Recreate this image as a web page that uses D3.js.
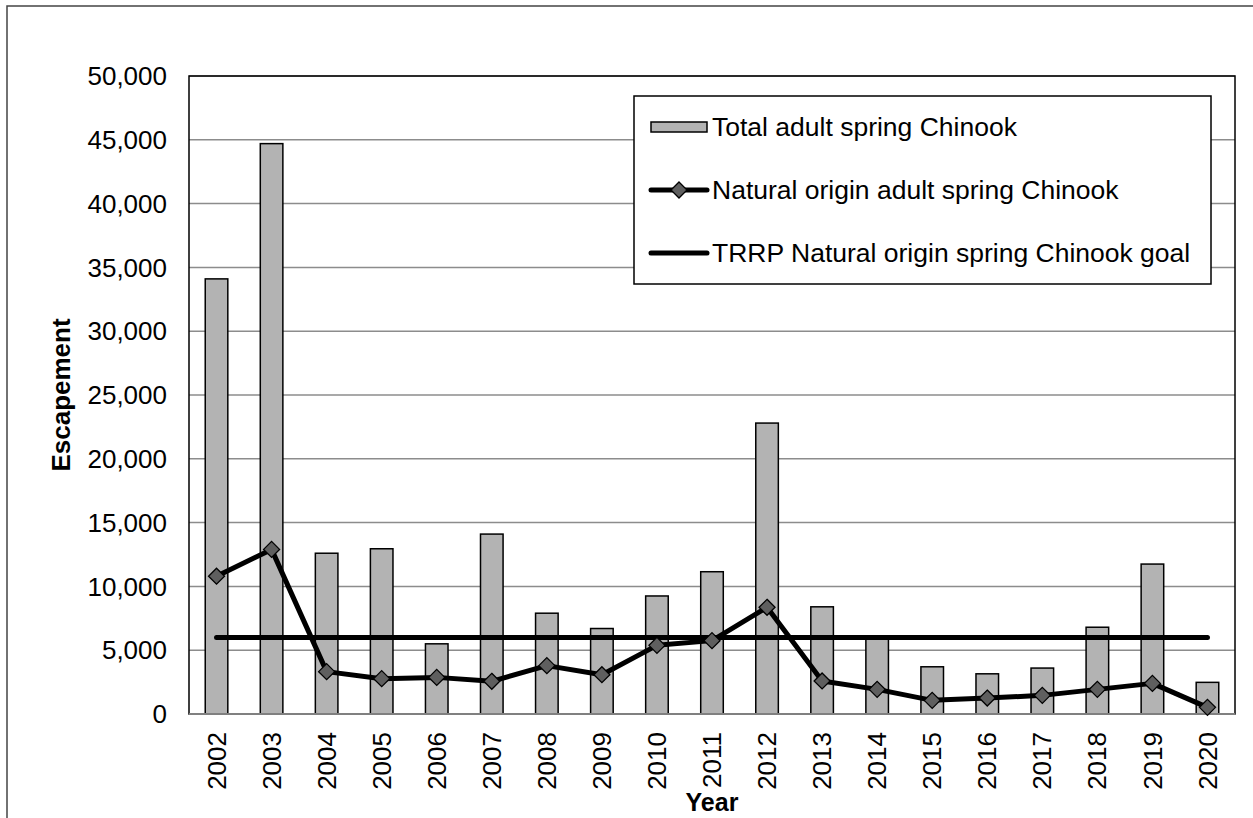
<!DOCTYPE html>
<html>
<head>
<meta charset="utf-8">
<script src="https://cdn.jsdelivr.net/npm/d3@7"></script>
<style>
  body { margin: 0; background: #fff; }
  text { font-family: "Liberation Sans", Arial, sans-serif; fill: #000; }
</style>
</head>
<body>
<div id="chart"></div>
<script>
// data
var years = ["2002","2003","2004","2005","2006","2007","2008","2009","2010","2011",
             "2012","2013","2014","2015","2016","2017","2018","2019","2020"];
var totalAdult = [34100, 44700, 12600, 12950, 5500, 14100, 7900, 6700, 9250, 11150,
                  22800, 8400, 6000, 3700, 3150, 3600, 6800, 11750, 2480];
var naturalAdult = [10800, 12900, 3320, 2770, 2870, 2560, 3790, 3080, 5380, 5750,
                    8360, 2590, 1930, 1070, 1250, 1460, 1930, 2400, 520];
var goalValue = 6000;
var yTicks = [0, 5000, 10000, 15000, 20000, 25000, 30000, 35000, 40000, 45000, 50000];
var legendLabels = ["Total adult spring Chinook",
                    "Natural origin adult spring Chinook",
                    "TRRP Natural origin spring Chinook goal"];

var W = 1253, H = 818;
var plot = {left: 189, right: 1235, top: 76, bottom: 714};

var svg = d3.select("#chart")
    .append("svg")
    .attr("width", W)
    .attr("height", H);

// outer frame (runs off the page on right / bottom)
svg.append("rect")
    .attr("x", 7).attr("y", 6)
    .attr("width", 1270).attr("height", 840)
    .attr("fill", "none")
    .attr("stroke", "#444")
    .attr("stroke-width", 1.5);

var xc = d3.scaleBand()
    .domain(years)
    .range([plot.left, plot.right]);

var y = d3.scaleLinear()
    .domain([0, 50000])
    .range([plot.bottom, plot.top]);

var barW = xc.bandwidth() * 0.41;

function cx(d){ return xc(d) + xc.bandwidth()/2; }

// gridlines
svg.append("g")
    .selectAll("line")
    .data(yTicks.slice(1))
    .enter().append("line")
    .attr("x1", plot.left).attr("x2", plot.right)
    .attr("y1", function(d){ return y(d); })
    .attr("y2", function(d){ return y(d); })
    .attr("stroke", "#8c8c8c")
    .attr("stroke-width", 1.5);

// plot area border
svg.append("rect")
    .attr("x", plot.left).attr("y", plot.top)
    .attr("width", plot.right - plot.left)
    .attr("height", plot.bottom - plot.top)
    .attr("fill", "none")
    .attr("stroke", "#000")
    .attr("stroke-width", 1.5);

// bars
svg.append("g")
    .selectAll("rect")
    .data(totalAdult)
    .enter().append("rect")
    .attr("x", function(d,i){ return cx(years[i]) - barW/2; })
    .attr("width", barW)
    .attr("y", function(d){ return y(d); })
    .attr("height", function(d){ return y(0) - y(d); })
    .attr("fill", "#b3b3b3")
    .attr("stroke", "#000")
    .attr("stroke-width", 1.5);

// x axis baseline
svg.append("line")
    .attr("x1", plot.left).attr("x2", plot.right)
    .attr("y1", y(0)).attr("y2", y(0))
    .attr("stroke", "#808080")
    .attr("stroke-width", 2);

// goal line
svg.append("line")
    .attr("x1", cx(years[0])).attr("x2", cx(years[years.length-1]))
    .attr("y1", y(goalValue)).attr("y2", y(goalValue))
    .attr("stroke", "#000")
    .attr("stroke-width", 5)
    .attr("stroke-linecap", "round");

// natural origin line
var line = d3.line()
    .x(function(d,i){ return cx(years[i]); })
    .y(function(d){ return y(d); });

svg.append("path")
    .datum(naturalAdult)
    .attr("d", line)
    .attr("fill", "none")
    .attr("stroke", "#000")
    .attr("stroke-width", 5)
    .attr("stroke-linejoin", "round");

var diamond = "M0,-8L8,0L0,8L-8,0Z";

svg.append("g")
    .selectAll("path")
    .data(naturalAdult)
    .enter().append("path")
    .attr("d", diamond)
    .attr("transform", function(d,i){ return "translate(" + cx(years[i]) + "," + y(d) + ")"; })
    .attr("fill", "#5f5f5f")
    .attr("stroke", "#000")
    .attr("stroke-width", 1.3);

// y tick labels
svg.append("g")
    .selectAll("text")
    .data(yTicks)
    .enter().append("text")
    .attr("x", 167)
    .attr("y", function(d){ return y(d); })
    .attr("dy", "0.35em")
    .attr("text-anchor", "end")
    .style("font-size", "26px")
    .text(d3.format(","));

// x tick labels (rotated)
svg.append("g")
    .selectAll("text")
    .data(years)
    .enter().append("text")
    .attr("transform", function(d){ return "translate(" + cx(d) + ",732) rotate(-90)"; })
    .attr("dy", "0.35em")
    .attr("text-anchor", "end")
    .style("font-size", "26px")
    .text(function(d){ return d; });

// axis titles
svg.append("text")
    .attr("transform", "translate(70," + ((plot.top + plot.bottom)/2) + ") rotate(-90)")
    .attr("text-anchor", "middle")
    .style("font-size", "26px")
    .style("font-weight", "bold")
    .text("Escapement");

svg.append("text")
    .attr("x", (plot.left + plot.right)/2)
    .attr("y", 811)
    .attr("text-anchor", "middle")
    .style("font-size", "25px")
    .style("font-weight", "bold")
    .text("Year");

// legend
var legend = svg.append("g");
legend.append("rect")
    .attr("x", 634).attr("y", 96)
    .attr("width", 577).attr("height", 188)
    .attr("fill", "#fff")
    .attr("stroke", "#000")
    .attr("stroke-width", 1.5);

var rowY = [127, 190, 253];

legend.append("rect")
    .attr("x", 651).attr("y", rowY[0] - 5)
    .attr("width", 56).attr("height", 10)
    .attr("fill", "#b3b3b3")
    .attr("stroke", "#000")
    .attr("stroke-width", 1.5);

legend.append("line")
    .attr("x1", 651).attr("x2", 707)
    .attr("y1", rowY[1]).attr("y2", rowY[1])
    .attr("stroke", "#000").attr("stroke-width", 5).attr("stroke-linecap", "round");
legend.append("path")
    .attr("d", diamond)
    .attr("transform", "translate(679," + rowY[1] + ")")
    .attr("fill", "#5f5f5f")
    .attr("stroke", "#000")
    .attr("stroke-width", 1.3);

legend.append("line")
    .attr("x1", 651).attr("x2", 707)
    .attr("y1", rowY[2]).attr("y2", rowY[2])
    .attr("stroke", "#000").attr("stroke-width", 5).attr("stroke-linecap", "round");

legend.selectAll("text.lab")
    .data(legendLabels)
    .enter().append("text")
    .attr("class", "lab")
    .attr("x", 712)
    .attr("y", function(d,i){ return rowY[i]; })
    .attr("dy", "0.35em")
    .style("font-size", "26.5px")
    .text(function(d){ return d; });
</script>
</body>
</html>
